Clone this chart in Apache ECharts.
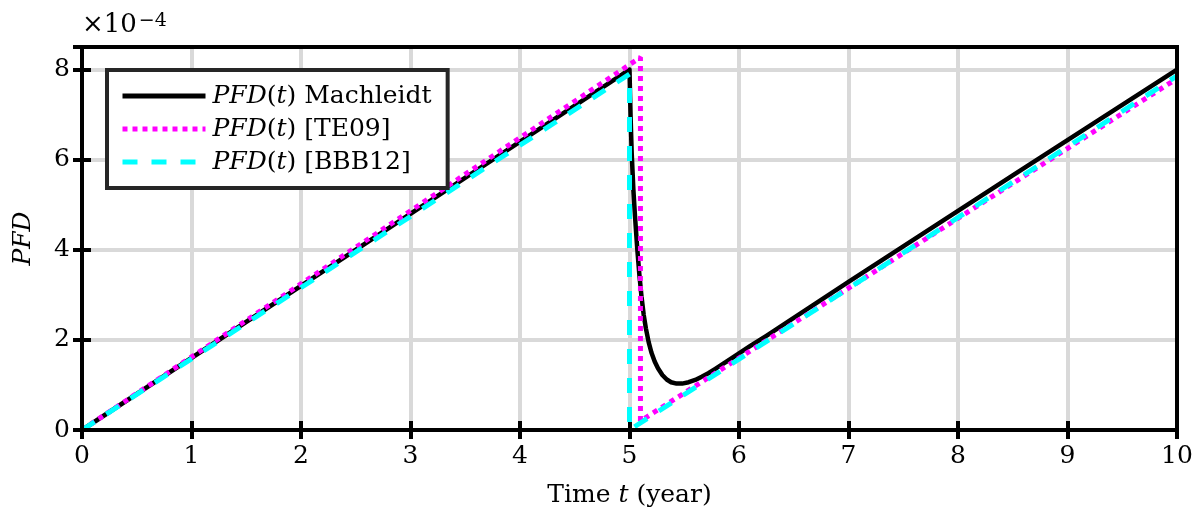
<!DOCTYPE html>
<html>
<head>
<meta charset="utf-8">
<script src="https://cdn.jsdelivr.net/npm/echarts@6/dist/echarts.min.js"></script>
<style>
html,body{margin:0;padding:0;background:#fff;}
#c{width:1202px;height:518px;}
</style>
</head>
<body>
<div id="c"></div>
<script>
// Values in units of 1e-4
var seriesNames = ['PFD(t) Machleidt', 'PFD(t) [TE09]', 'PFD(t) [BBB12]'];
var xTicks = [0,1,2,3,4,5,6,7,8,9,10];
var yTicks = [0,2,4,6,8];

var tMach = [0, 5.000, 5.005, 5.010, 5.020, 5.035, 5.050, 5.070, 5.090, 5.110, 5.130, 5.150, 5.175, 5.200, 5.230, 5.260, 5.300, 5.340, 5.380, 5.430, 5.480, 5.540, 5.600, 5.660, 5.720, 5.780, 5.850, 5.920, 6.000, 6.100, 6.250, 6.500, 7.000, 8.500, 10];
var vMach = [0, 8.00, 7.45, 6.95, 6.15, 5.35, 4.75, 4.05, 3.45, 2.95, 2.55, 2.25, 1.95, 1.72, 1.52, 1.37, 1.22, 1.12, 1.06, 1.03, 1.03, 1.06, 1.11, 1.18, 1.26, 1.35, 1.46, 1.57, 1.70, 1.86, 2.09, 2.49, 3.29, 5.65, 8.00];

var tTE09 = [0, 5.1, 5.1, 10];
var vTE09 = [0, 8.27, 0.20, 7.80];

var tBBB12 = [0, 5.0, 5.0, 10];
var vBBB12 = [0, 7.90, 0.00, 7.86];

function pairs(t, v){ return t.map(function(x,i){ return [x, v[i]]; }); }

var FONT = 'DejaVu Serif';
var FS = 25;

var chart = echarts.init(document.getElementById('c'), null, {renderer:'canvas'});
chart.setOption({
  animation: false,
  backgroundColor: '#fff',
  grid: {left: 82, right: 25, top: 47, bottom: 88, show: true, borderColor: '#000', borderWidth: 4, backgroundColor: 'transparent', z: 10, outerBoundsMode: 'none', containLabel: false},
  graphic: [{
    type: 'text', left: 82, top: 12, z: 20,
    style: {
      text: '×10{s|−4}',
      font: '26px "' + FONT + '"',
      fill: '#000',
      rich: {s: {fontSize: 19, fontFamily: FONT, verticalAlign: 'top', lineHeight: 16, padding:[0,0,16,2]}}
    }
  }],
  legend: {
    orient: 'vertical', left: 107, top: 70,
    backgroundColor: '#fff', borderColor: '#262626', borderWidth: 4, borderRadius: 0,
    padding: [11, 16, 11, 13],
    itemWidth: 83, itemHeight: 14, itemGap: 3,
    data: seriesNames,
    itemStyle: {opacity: 0, borderWidth: 0},
    lineStyle: {width: 5},
    formatter: function(name){ return '{i|PFD}({i|t}) ' + name.replace('PFD(t) ', ''); },
    textStyle: {color: '#000', fontSize: FS, fontFamily: FONT, lineHeight: 30, padding: [0,0,0,2],
      rich: {i: {fontStyle: 'italic', fontSize: FS, fontFamily: FONT, lineHeight: 30}}},
    z: 30
  },
  xAxis: [{
    type: 'value', position: 'bottom', min: 0, max: 10, interval: 1,
    name: 'Time {i|t} (year)', nameLocation: 'middle', nameGap: 53,
    nameTextStyle: {color: '#000', fontSize: FS, fontFamily: FONT, rich: {i: {fontStyle:'italic', fontSize: FS, fontFamily: FONT}}},
    axisLine: {show: true, lineStyle: {color: '#000', width: 4}},
    axisTick: {show: true, inside: true, length: 9, lineStyle: {color: '#000', width: 4}},
    axisLabel: {color: '#000', fontSize: FS, fontFamily: FONT, margin: 14, showMinLabel: true, showMaxLabel: true},
    splitLine: {show: true, lineStyle: {color: '#d9d9d9', width: 4}}
  }, {
    type: 'value', position: 'top', min: 0, max: 10, interval: 1,
    axisLine: {show: true, lineStyle: {color: '#000', width: 4}},
    axisTick: {show: true, inside: true, length: 9, lineStyle: {color: '#000', width: 4}},
    axisLabel: {show: false}, splitLine: {show: false}
  }],
  yAxis: [{
    type: 'value', position: 'left', min: 0, max: 8.5, interval: 2,
    name: 'PFD', nameLocation: 'middle', nameGap: 46, nameRotate: 90,
    nameTextStyle: {color: '#000', fontSize: FS, fontFamily: FONT, fontStyle: 'italic'},
    axisLine: {show: true, lineStyle: {color: '#000', width: 4}},
    axisTick: {show: true, inside: true, length: 9, lineStyle: {color: '#000', width: 4}},
    axisLabel: {color: '#000', fontSize: FS, fontFamily: FONT, margin: 12,
      formatter: function(v){ return yTicks.indexOf(v) >= 0 ? String(v) : ''; }},
    splitLine: {show: true, showMaxLine: false, lineStyle: {color: '#d9d9d9', width: 4}}
  }, {
    type: 'value', position: 'right', min: 0, max: 8.5, interval: 2,
    axisLine: {show: true, lineStyle: {color: '#000', width: 4}},
    axisTick: {show: true, inside: true, length: 9, lineStyle: {color: '#000', width: 4}},
    axisLabel: {show: false}, splitLine: {show: false}
  }],
  series: [{
    name: seriesNames[0], type: 'line', data: pairs(tMach, vMach),
    showSymbol: false, symbol: 'none', z: 3,
    lineStyle: {color: '#000', width: 4.5, join: 'round'}, itemStyle: {color: '#000'}
  }, {
    name: seriesNames[1], type: 'line', data: pairs(tTE09, vTE09),
    showSymbol: false, symbol: 'none', z: 4,
    lineStyle: {color: '#ff00ff', width: 5, type: [5, 5], cap: 'butt'}, itemStyle: {color: '#ff00ff'}
  }, {
    name: seriesNames[2], type: 'line', data: pairs(tBBB12, vBBB12),
    showSymbol: false, symbol: 'none', z: 5,
    lineStyle: {color: '#00ffff', width: 5, type: [15, 14], cap: 'butt'}, itemStyle: {color: '#00ffff'}
  }]
});
</script>
</body>
</html>
